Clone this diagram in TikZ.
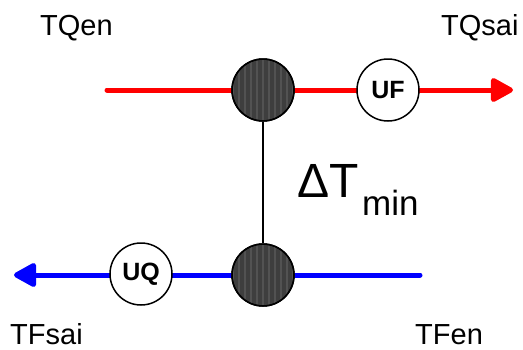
\documentclass[tikz,border=0pt]{standalone}
\usepackage{fontspec}
\setmainfont{Liberation Sans}
\usetikzlibrary{arrows.meta}
\definecolor{hxdark}{RGB}{62,62,62}
\definecolor{hxstripe}{RGB}{82,82,82}
\tikzset{
  lbl/.style={anchor=base west, inner sep=0pt, text depth=0pt, font=\fontsize{29}{29}\selectfont},
  unit/.style={circle, draw=black, line width=1.5pt, fill=white, minimum size=62pt, inner sep=0pt, font=\bfseries\fontsize{25}{25}\selectfont},
  hx/.style={circle, draw=black, line width=1.5pt, fill=hxdark, minimum size=62pt, inner sep=0pt},
  hot/.style={draw=red, line width=5pt, line cap=round},
  cold/.style={draw=blue, line width=5pt, line cap=round},
  tip/.style={-{Triangle[length=25pt,width=26pt,round]}}
}
\begin{document}
\begin{tikzpicture}[x=1pt,y=-1pt]
\useasboundingbox (0,0) rectangle (523,349);
% stream lines
\coordinate (qin) at (107,90);
\coordinate (qout) at (513,90);
\coordinate (fin) at (420,275);
\coordinate (fout) at (14,275);
\draw[hot,tip] (qin) -- (qout);
\draw[cold,tip] (fin) -- (fout);
% exchanger circles
\node[hx] (hxtop) at (263,90) {};
\node[hx] (hxbot) at (263,275) {};
\foreach \n in {hxtop,hxbot}{
  \begin{scope}
    \clip (\n.center) circle (30pt);
    \foreach \i in {-30,-24,...,30}{
      \fill[hxstripe] ([xshift=\i pt]\n.center) ++(-1,-35) rectangle ++(2.2,70);
    }
  \end{scope}
  \draw[black, line width=1.5pt] (\n.center) circle (31pt);
}
\draw[black, line width=1.3pt] (hxtop.south) -- (hxbot.north);
% utility circles
\node[unit] (uf) at (388,90) {UF};
\node[unit] (uq) at (141,274) {UQ};
% labels
\node[lbl] (tqen) at (40,35) {TQen};
\node[lbl] (tqsai) at (441,35) {TQsai};
\node[lbl] (tfsai) at (10,344) {TFsai};
\node[lbl] (tfen) at (415,344) {TFen};
\node[anchor=base west, inner sep=0pt, font=\fontsize{48}{48}\selectfont] (dt) at (297,197) {ΔT};
\node[anchor=base west, inner sep=0pt, font=\fontsize{35}{35}\selectfont] (dtmin) at (362,215) {min};
\end{tikzpicture}
\end{document}
